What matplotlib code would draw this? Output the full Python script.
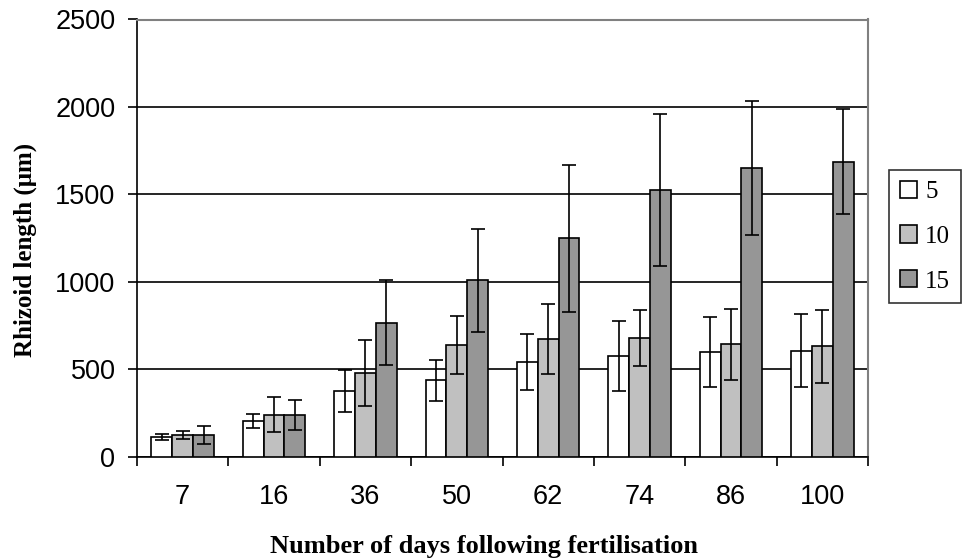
import numpy as np
import matplotlib
matplotlib.use("Agg")
import matplotlib.pyplot as plt

# values
days = ["7", "16", "36", "50", "62", "74", "86", "100"]
series = ["5", "10", "15"]
len_5 = [112, 206, 378, 436, 539, 575, 596, 606]
len_10 = [124, 240, 480, 640, 672, 677, 642, 631]
len_15 = [124, 240, 767, 1009, 1248, 1523, 1651, 1686]
err_5 = [17, 40, 120, 115, 160, 200, 200, 210]
err_10 = [23, 100, 190, 165, 200, 160, 205, 210]
err_15 = [52, 85, 245, 295, 420, 435, 385, 300]
colours = ["#FFFFFF", "#C0C0C0", "#969696"]

W, H = 963, 558
fig = plt.figure(figsize=(W / 100, H / 100), dpi=100)
ax = fig.add_axes([137 / W, 1 - 456.7 / H, (868 - 137) / W, (456.7 - 19.5) / H])

x = np.arange(len(days))
w = 0.228
for i, (vals, errs) in enumerate(zip([len_5, len_10, len_15], [err_5, err_10, err_15])):
    ax.bar(x + (i - 1) * w, vals, w, color=colours[i], edgecolor="black",
           linewidth=1.2, label=series[i], zorder=3)
    ax.errorbar(x + (i - 1) * w, vals, yerr=errs, fmt="none", ecolor="black",
                elinewidth=1.2, capsize=4.7, capthick=1.2, zorder=4)

ax.set_xlim(-0.5, len(days) - 0.5)
ax.set_ylim(0, 2500)
ax.set_yticks(range(0, 2501, 500))
ax.yaxis.grid(True, color="black", linewidth=1.2)
ax.set_axisbelow(True)

# category ticks between groups, labels centred
ax.set_xticks(np.arange(-0.5, len(days), 1.0))
ax.set_xticklabels([])
ax.set_xticks(x, minor=True)
ax.set_xticklabels(days, minor=True)
ax.tick_params(axis="x", which="major", length=6.5, width=1.2, direction="out")
ax.tick_params(axis="x", which="minor", length=0, pad=20)
ax.tick_params(axis="y", length=6.5, width=1.2, direction="out", pad=9)
for lab in ax.get_xticklabels(minor=True) + ax.get_yticklabels():
    lab.set_fontfamily("Liberation Sans")
    lab.set_fontsize(19.5)

ax.spines["top"].set_color("#808080")
ax.spines["right"].set_color("#808080")
ax.spines["top"].set_linewidth(1.5)
ax.spines["right"].set_linewidth(1.5)
ax.spines["left"].set_linewidth(1.2)
ax.spines["bottom"].set_linewidth(1.2)

fig.text(25 / W, 1 - 250 / H, "Rhizoid length (\u03bcm)", rotation=90,
         ha="center", va="center", family="Liberation Serif",
         weight="bold", fontsize=18)
fig.text(483.5 / W, 1 - 553 / H, "Number of days following fertilisation",
         ha="center", va="baseline", family="Liberation Serif",
         weight="bold", fontsize=19)

leg = ax.legend(loc="upper left", bbox_to_anchor=(889 / W, 1 - 170 / H),
                bbox_transform=fig.transFigure, frameon=True, fancybox=False,
                prop={"family": "Liberation Serif", "size": 18},
                handlelength=0.68, handleheight=0.68, handletextpad=0.35,
                labelspacing=0.9, borderpad=0.42, borderaxespad=0)
leg.get_frame().set_edgecolor("black")
leg.get_frame().set_linewidth(1.2)

fig.savefig("out.png", dpi=100)
